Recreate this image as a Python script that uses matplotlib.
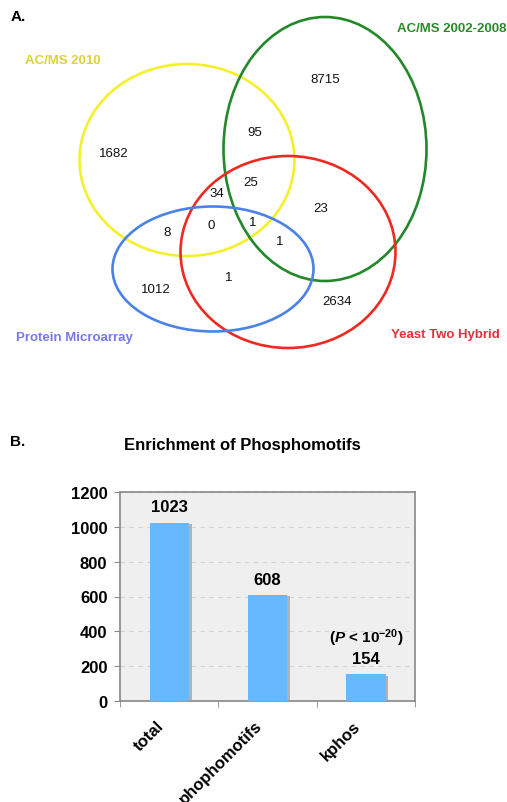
import matplotlib
matplotlib.use("Agg")
import matplotlib.pyplot as plt
from matplotlib.patches import Ellipse
import matplotlib.patheffects as pe
import matplotlib.transforms as mtransforms

plt.rcParams['font.family'] = ['Liberation Sans', 'DejaVu Sans']
plt.rcParams['mathtext.fontset'] = 'custom'
plt.rcParams['mathtext.rm'] = 'Liberation Sans:bold'
plt.rcParams['mathtext.it'] = 'Liberation Sans:italic:bold'

# Venn data (panel A)
set_names = ["AC/MS 2010", "AC/MS 2002-2008", "Yeast Two Hybrid", "Protein Microarray"]
region_counts = [1682, 8715, 2634, 1012, 95, 25, 34, 23, 0, 1, 8, 1, 1]

# bar data (panel B)
categories = ["total", "phophomotifs", "kphos"]
counts = [1023, 608, 154]

W, H = 507, 803
fig = plt.figure(figsize=(W / 100, H / 100), dpi=100)

# ---- panel A : venn in pixel coordinates
axv = fig.add_axes([0, 1 - 380 / H, 1, 380 / H])
axv.set_xlim(0, W)
axv.set_ylim(380, 0)
axv.axis('off')

# ellipses: (cx, cy, w, h, colour)
shapes = [(187, 161, 215, 192, '#f4f02a'),
          (325, 150, 203, 264, '#22882a'),
          (288, 253, 215, 192, '#ee2a22'),
          (213, 270, 201, 125, '#4a82e6')]
for cx, cy, w, h, c in shapes:
    axv.add_patch(Ellipse((cx, cy), w, h, fill=False, edgecolor=c, linewidth=1.9))

label_pos = [(25, 61, 'left', '#dcd432'), (506, 29, 'right', '#2a8a2a'),
             (500, 335, 'right', '#e2303c'), (16, 338, 'left', '#7878e8')]
for name, (x, y, ha, c) in zip(set_names, label_pos):
    axv.text(x, y, name, ha=ha, va='center', color=c, fontsize=9.5, fontweight='bold')

count_pos = [(114, 154), (325, 80), (337, 302), (156, 290), (255, 133), (251, 183),
             (217, 194), (321, 209), (211, 226), (253, 223), (167, 233), (280, 242), (229, 278)]
for v, (x, y) in zip(region_counts, count_pos):
    axv.text(x, y, str(v), ha='center', va='center', fontsize=9.5, color='#111111')

axv.text(11, 17, "A.", fontsize=11, fontweight='bold', va='center')

# ---- panel B : bar chart
fig.text(10 / W, 1 - 442 / H, "B.", fontsize=11, fontweight='bold', va='center')
fig.text(242 / W, 1 - 446 / H, "Enrichment of Phosphomotifs", fontsize=12,
         fontweight='bold', ha='center', va='center')

axb = fig.add_axes([120 / W, (H - 702) / H, 295 / W, 209 / H])
axb.set_facecolor('#efefef')
x = range(len(categories))
bars = axb.bar(x, counts, width=0.4, color='#66b8ff', zorder=3,
               path_effects=[pe.SimplePatchShadow(offset=(2, -1), shadow_rgbFace='#999999', alpha=0.7),
                             pe.Normal()])
axb.set_xlim(-0.5, len(categories) - 0.5)
axb.set_ylim(0, 1200)
axb.set_yticks(range(0, 1201, 200))
axb.yaxis.grid(True, linestyle=(0, (4, 4)), color='#d4d4d4', linewidth=0.8, zorder=0)
for s in axb.spines.values():
    s.set_color('#888888')
    s.set_linewidth(1.2)
axb.tick_params(axis='y', length=4, color='#888888', labelsize=12, pad=5)
for t in axb.get_yticklabels():
    t.set_fontweight('bold')

axb.set_xticks([i - 0.5 for i in range(len(categories) + 1)], minor=True)
axb.set_xticks(list(x))
axb.set_xticklabels(categories, rotation=45, ha='right', rotation_mode='anchor',
                    fontsize=12, fontweight='bold')
axb.tick_params(axis='x', which='major', length=0, pad=12)
axb.tick_params(axis='x', which='minor', length=4, color='#888888')
shift = mtransforms.ScaledTranslation(-0.13, 0, fig.dpi_scale_trans)
for t in axb.get_xticklabels():
    t.set_transform(t.get_transform() + shift)

for xi, v in zip(x, counts):
    axb.annotate(str(v), (xi, v), xytext=(0, 6), textcoords='offset points',
                 ha='center', va='bottom', fontsize=12, fontweight='bold')
axb.annotate(r'($\mathit{P}$ < 10$^{-20}$)', (2, counts[2]), xytext=(0, 19),
             textcoords='offset points', ha='center', va='bottom', fontsize=11,
             fontweight='bold')

fig.savefig("out.png", dpi=100)
